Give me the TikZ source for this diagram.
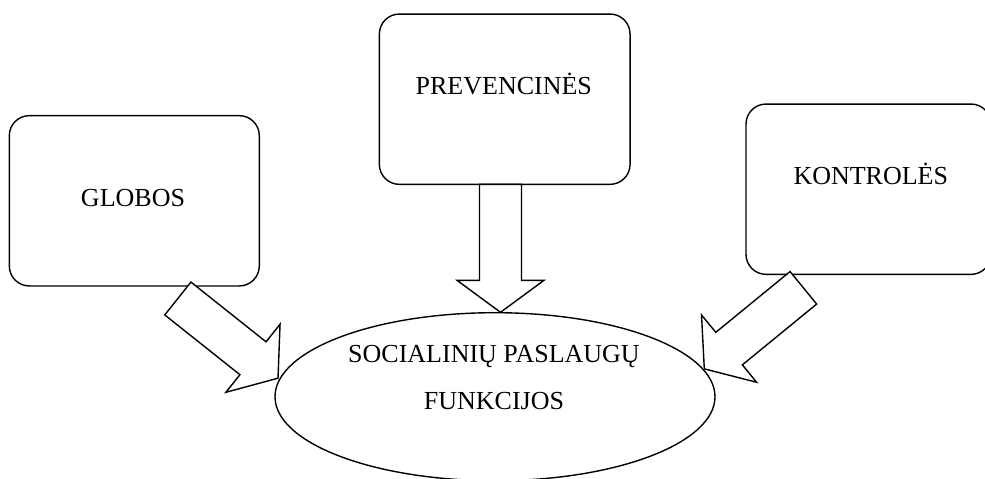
\documentclass[tikz,border=0pt]{standalone}
\usepackage{fontspec}
\setmainfont{Liberation Serif}
\usetikzlibrary{shapes.geometric}
\begin{document}
\begin{tikzpicture}[x=1pt,y=1pt,line width=1.4pt,
  box/.style={draw, rounded corners=20pt, minimum height=170.3pt, inner sep=0pt},
  oval/.style={draw, ellipse, minimum width=440pt, minimum height=168pt, inner sep=0pt},
  lbl/.style={font=\fontsize{26}{47}\selectfont, inner sep=0pt, align=center},
  blockarrow/.pic={\draw[fill=white, line join=miter]
     (0,21) -- (96,21) -- (96,43.5) -- (128,0) -- (96,-43.5) -- (96,-21) -- (0,-21) -- cycle;}]
\useasboundingbox (0,0) rectangle (985,-479);
% boxes
\node[box, minimum width=250pt] (globos) at (134.3,-200.8) {};
\node[box, minimum width=250.7pt] (prev) at (504.7,-99.2) {};
\node[box, minimum width=245pt] (kontr) at (868.5,-189.2) {};
\node[oval] (soc) at (495,-396.7) {};
% labels
\node[lbl, anchor=base] (globost) at (133,-206) {GLOBOS};
\node[lbl, anchor=base] (prevt) at (503.8,-94.3) {PREVENCINĖS};
\node[lbl, anchor=base] (kontrt) at (870.8,-184) {KONTROLĖS};
\node[lbl] (soct) at (494,-377.5) {SOCIALINIŲ PASLAUGŲ\\FUNKCIJOS};
% block arrows
\coordinate (tailL) at (177.85,-298.5);
\coordinate (tailM) at (500.5,-184.3);
\coordinate (tailR) at (803.35,-287.8);
\pic[rotate=-38.5] at (tailL) {blockarrow};
\pic[rotate=-90] at (tailM) {blockarrow};
\pic[rotate=-140.7] at (tailR) {blockarrow};
\end{tikzpicture}
\end{document}
